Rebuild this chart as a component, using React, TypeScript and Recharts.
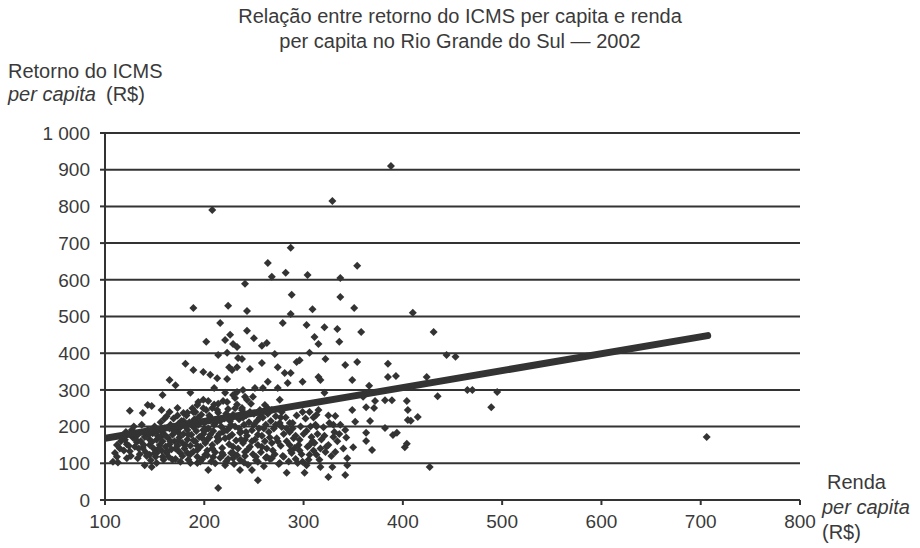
import React from "react";
import { ScatterChart, Scatter, XAxis, YAxis, CartesianGrid } from "recharts";

// Renda per capita (R$) of each município
const rendaPerCapita: number[] = [
  388, 329, 208, 287, 264, 282, 268, 304, 337, 354, 241, 288, 337, 189, 224, 243, 309, 351, 410, 287,
  216, 279, 303, 321, 334, 358, 226, 221, 202, 229, 233, 243, 250, 258, 263, 311, 315, 336, 431, 214,
  223, 234, 181, 189, 199, 206, 213, 223, 225, 233, 165, 171, 158, 186, 210, 221, 233, 239, 125, 138,
  143, 147, 157, 165, 173, 179, 189, 194, 199, 204, 193, 208, 214, 223, 231, 241, 238, 112, 127, 120,
  132, 138, 145, 152, 158, 167, 174, 183, 189, 199, 203, 213, 219, 226, 236, 241, 145, 152, 162, 173,
  183, 193, 201, 209, 219, 229, 241, 108, 113, 122, 133, 140, 147, 152, 176, 186, 193, 204, 221, 236,
  214, 271, 228, 238, 246, 258, 274, 281, 287, 284, 264, 259, 274, 276, 251, 229, 243, 249, 261, 268,
  293, 296, 306, 322, 342, 354, 299, 315, 317, 321, 349, 306, 315, 313, 332, 349, 352, 342, 330, 308,
  296, 286, 278, 311, 325, 350, 306, 313, 322, 332, 344, 344, 294, 299, 303, 301, 317, 329, 325, 342,
  283, 254, 248, 229, 254, 263, 268, 276, 288, 291, 444, 453, 385, 385, 393, 424, 366, 360, 372, 382,
  389, 404, 435, 465, 470, 495, 489, 363, 371, 405, 405, 408, 415, 367, 363, 382, 390, 394, 363, 369,
  402, 404, 427, 706,
  110, 115, 118, 122, 125, 128, 130, 133, 135, 136, 140, 141, 143, 145, 146, 148, 149, 150, 151, 153,
  155, 156, 157, 158, 159, 160, 161, 162, 163, 164, 165, 166, 167, 168, 169, 170, 171, 172, 173, 174,
  175, 176, 177, 178, 179, 180, 181, 182, 183, 184, 185, 186, 187, 188, 189, 190, 191, 192, 193, 194,
  195, 196, 197, 198, 199, 200, 201, 202, 203, 204, 205, 206, 207, 208, 209, 210, 211, 212, 213, 214,
  215, 216, 217, 218, 219, 220, 221, 222, 223, 224, 225, 226, 227, 228, 229, 230, 231, 232, 233, 234,
  235, 236, 237, 238, 239, 240, 241, 242, 243, 244, 245, 246, 247, 248, 249, 250, 251, 252, 253, 254,
  255, 256, 257, 258, 259, 260, 261, 262, 263, 264, 265, 266, 267, 268, 270, 271, 272, 273, 275, 276,
  277, 278, 279, 280, 282, 283, 285, 286, 287, 289, 290, 292, 293, 295, 297, 298, 300, 302, 304, 305,
  307, 309, 310, 312, 314, 316, 318, 320, 323, 326, 328, 331, 334, 337, 340, 343,
  112, 116, 119, 121, 124, 126, 129, 131, 134, 137, 139, 142, 144, 147, 150, 152, 154, 156, 158, 160,
  161, 163, 165, 166, 168, 170, 171, 173, 174, 176, 178, 179, 181, 183, 184, 186, 188, 189, 191, 193,
  194, 196, 198, 199, 201, 203, 205, 206, 208, 210, 211, 213, 215, 216, 218, 220, 222, 224, 225, 227,
  229, 231, 233, 235, 237, 239, 240, 242, 244, 246, 248, 250, 252, 254, 256, 258, 260, 262, 264, 266,
  269, 272, 274, 277, 280, 283, 286, 289, 292, 296, 299, 303, 306, 310, 313, 317, 321, 325, 330, 336,
];

// Retorno do ICMS per capita (R$) of each município, same order
const retornoIcms: number[] = [
  910, 815, 790, 687, 646, 619, 608, 613, 605, 638, 589, 559, 553, 523, 529, 515, 520, 523, 510, 507,
  482, 482, 477, 471, 466, 458, 450, 436, 431, 425, 417, 461, 441, 420, 428, 444, 425, 431, 458, 395,
  401, 387, 371, 354, 349, 341, 332, 330, 362, 362, 327, 313, 286, 292, 305, 292, 294, 300, 243, 237,
  259, 256, 245, 240, 251, 237, 240, 267, 273, 270, 259, 251, 262, 267, 278, 281, 251, 150, 191, 164,
  158, 142, 150, 164, 183, 196, 183, 191, 199, 191, 164, 172, 185, 199, 183, 164, 123, 128, 128, 136,
  128, 136, 123, 117, 123, 128, 131, 104, 102, 114, 114, 95, 90, 101, 104, 101, 101, 82, 95, 82,
  33, 398, 354, 384, 357, 373, 362, 346, 346, 319, 322, 305, 305, 273, 305, 286, 273, 281, 259, 245,
  376, 381, 401, 384, 368, 376, 322, 335, 327, 292, 327, 240, 245, 232, 229, 245, 213, 191, 172, 172,
  164, 185, 199, 155, 150, 144, 123, 123, 131, 131, 114, 95, 101, 104, 95, 74, 90, 90, 63, 68,
  74, 54, 82, 114, 104, 117, 114, 101, 128, 142, 395, 390, 371, 335, 338, 335, 311, 281, 270, 272,
  272, 270, 283, 300, 300, 294, 253, 253, 251, 245, 218, 216, 226, 215, 183, 196, 177, 183, 161, 136,
  144, 153, 90, 172,
  128, 140, 175, 152, 133, 170, 145, 178, 125, 160, 172, 130, 190, 165, 108, 182, 140, 200, 118, 175,
  150, 212, 135, 160, 110, 195, 145, 228, 170, 118, 152, 205, 138, 178, 222, 160, 112, 190, 148, 208,
  170, 128, 215, 155, 180, 140, 200, 230, 165, 110, 212, 148, 178, 250, 132, 220, 160, 188, 118, 205,
  172, 145, 232, 112, 180, 210, 155, 245, 135, 195, 170, 225, 105, 150, 188, 260, 130, 212, 160, 238,
  180, 115, 200, 142, 270, 222, 168, 105, 190, 248, 152, 215, 128, 178, 232, 98, 200, 162, 260, 140,
  220, 110, 185, 245, 155, 205, 120, 230, 175, 96, 212, 145, 262, 190, 125, 235, 165, 108, 215, 150,
  195, 245, 130, 175, 225, 92, 160, 205, 140, 235, 185, 112, 215, 155, 195, 125, 228, 168, 98, 210,
  148, 240, 120, 180, 225, 160, 105, 210, 135, 195, 168, 112, 230, 150, 200, 125, 180, 222, 145, 110,
  200, 160, 135, 205, 180, 110, 165, 198, 145, 210, 120, 185, 160, 205, 140, 170,
  118, 160, 135, 185, 148, 120, 200, 165, 140, 205, 150, 120, 178, 158, 128, 188, 140, 172, 118, 222,
  175, 132, 195, 160, 110, 185, 140, 230, 162, 198, 120, 215, 150, 238, 178, 125, 205, 162, 240, 148,
  225, 105, 168, 250, 190, 122, 230, 178, 140, 205, 100, 245, 165, 215, 128, 190, 235, 112, 172, 205,
  145, 250, 122, 195, 165, 225, 102, 185, 138, 240, 160, 205, 118, 178, 225, 145, 195, 115, 250, 170,
  135, 205, 160, 225, 118, 195, 150, 210, 175, 135, 240, 188, 150, 225, 200, 140, 175, 230, 205, 180,
];

// Linear trend (start and end of the fitted line)
const trendRenda: number[] = [100, 707];
const trendRetorno: number[] = [168, 448];

const xTicks: number[] = [100, 200, 300, 400, 500, 600, 700, 800];
const yTicks: number[] = [0, 100, 200, 300, 400, 500, 600, 700, 800, 900, 1000];

const points = rendaPerCapita.map((x, i) => ({ x, y: retornoIcms[i] }));
const trend = trendRenda.map((x, i) => ({ x, y: trendRetorno[i] }));

const INK = "#333333";
const TEXT = "#3a3a3a";
const FONT = '"Liberation Sans", Arial, Helvetica, sans-serif';

const Diamond = (props: any) => {
  const { cx, cy } = props;
  if (cx == null || cy == null) return null;
  const r = 4;
  return (
    <polygon
      points={`${cx},${cy - r} ${cx + r},${cy} ${cx},${cy + r} ${cx - r},${cy}`}
      fill={INK}
    />
  );
};

const NoShape = () => <g />;

export default function App() {
  return (
    <div style={{ position: "absolute", left: 0, top: 0, width: 920, height: 548, background: "#fff" }}>
      <ScatterChart
        width={920}
        height={548}
        margin={{ top: 133, right: 120, bottom: 18, left: 45 }}
        style={{ fontFamily: FONT }}
      >
        <CartesianGrid vertical={false} stroke={INK} strokeWidth={2} />
        <XAxis
          type="number"
          dataKey="x"
          domain={[100, 800]}
          ticks={xTicks}
          allowDataOverflow
          height={30}
          axisLine={{ stroke: INK, strokeWidth: 2 }}
          tickLine={{ stroke: INK, strokeWidth: 2 }}
          tickSize={5}
          tickMargin={10}
          tick={{ fill: TEXT, fontSize: 19, fontFamily: FONT }}
        />
        <YAxis
          type="number"
          dataKey="y"
          domain={[0, 1000]}
          ticks={yTicks}
          allowDataOverflow
          width={60}
          axisLine={{ stroke: INK, strokeWidth: 2 }}
          tickLine={{ stroke: INK, strokeWidth: 2 }}
          tickSize={5}
          tickMargin={10}
          tickFormatter={(v: number) => (v === 1000 ? "1 000" : String(v))}
          tick={{ fill: TEXT, fontSize: 19, fontFamily: FONT }}
        />
        <Scatter data={points} shape={Diamond} isAnimationActive={false} />
        <Scatter
          data={trend}
          line={{ stroke: INK, strokeWidth: 7, strokeLinecap: "round" }}
          lineType="joint"
          shape={NoShape}
          isAnimationActive={false}
        />
      </ScatterChart>
      <svg
        width={920}
        height={548}
        style={{ position: "absolute", left: 0, top: 0, pointerEvents: "none" }}
        fontFamily={FONT}
        fontSize={20}
        fill={TEXT}
      >
        <text x={460} y={23} textAnchor="middle">Relação entre retorno do ICMS per capita e renda</text>
        <text x={460} y={48} textAnchor="middle">per capita no Rio Grande do Sul — 2002</text>
        <text x={8} y={78}>Retorno do ICMS</text>
        <text x={8} y={101} fontStyle="italic">per capita</text>
        <text x={106} y={101}>(R$)</text>
        <text x={827} y={489}>Renda</text>
        <text x={822} y={514} fontStyle="italic">per capita</text>
        <text x={822} y={539}>(R$)</text>
      </svg>
    </div>
  );
}
